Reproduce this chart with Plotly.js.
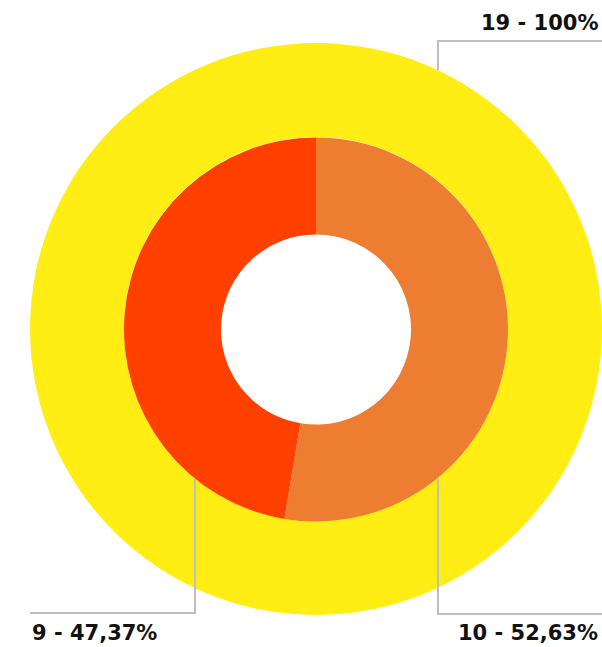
<!DOCTYPE html>
<html>
<head>
<meta charset="utf-8">
<script src="https://cdn.plot.ly/plotly-3.0.1.min.js"></script>
<style>
  html, body { margin: 0; padding: 0; background: #ffffff; overflow: hidden; }
  #chart { width: 602px; height: 647px; }
</style>
</head>
<body>
<div id="chart"></div>
<script>
// ---- data ----
const outerLabels = ["Total"];
const outerValues = [19];
const outerText = ["19 - 100%"];

const innerLabels = ["Grupo A", "Grupo B"];
const innerValues = [10, 9];
const innerText = ["10 - 52,63%", "9 - 47,37%"];

const outerColors = ["#FFED14"];
const innerColors = ["#ED7D31", "#FF4000"];

// ---- layout helpers (pixel -> paper) ----
const W = 602, H = 647;
const px = x => x / W;
const py = y => 1 - y / H;

const traces = [
  {
    type: "pie",
    labels: outerLabels,
    values: outerValues,
    hole: 0.671,
    sort: false,
    direction: "clockwise",
    textinfo: "none",
    hoverinfo: "none",
    marker: { colors: outerColors, line: { width: 0 } },
    domain: { x: [px(30), 1], y: [py(615), py(43)] },
    showlegend: false
  },
  {
    type: "pie",
    labels: innerLabels,
    values: innerValues,
    hole: 0.495,
    sort: false,
    direction: "clockwise",
    rotation: 0,
    textinfo: "none",
    hoverinfo: "none",
    marker: { colors: innerColors, line: { width: 0 } },
    domain: { x: [px(124), px(508)], y: [py(521.5), py(137.5)] },
    showlegend: false
  }
];

const lineStyle = { color: "#BFBFBF", width: 2 };
function path(points) {
  return "M " + points.map(p => px(p[0]) + "," + py(p[1])).join(" L ");
}

const shapes = [
  { type: "path", xref: "paper", yref: "paper", path: path([[438, 70], [438, 41], [604, 41]]), line: lineStyle },
  { type: "path", xref: "paper", yref: "paper", path: path([[195, 479], [195, 613], [30, 613]]), line: lineStyle },
  { type: "path", xref: "paper", yref: "paper", path: path([[438, 478], [438, 614], [604, 614]]), line: lineStyle }
];

const labelFont = { family: "'DejaVu Sans', sans-serif", size: 21, color: "#111111", weight: "bold" };
const annotations = [
  { text: outerText[0], x: px(600), y: py(23), xanchor: "right", yanchor: "middle" },
  { text: innerText[1], x: px(30), y: py(633), xanchor: "left", yanchor: "middle" },
  { text: innerText[0], x: px(600), y: py(633), xanchor: "right", yanchor: "middle" }
].map(a => Object.assign({ xref: "paper", yref: "paper", showarrow: false, font: labelFont }, a));

const layout = {
  width: W,
  height: H,
  margin: { l: 0, r: 0, t: 0, b: 0 },
  paper_bgcolor: "#ffffff",
  plot_bgcolor: "#ffffff",
  showlegend: false,
  shapes: shapes,
  annotations: annotations
};

Plotly.newPlot("chart", traces, layout, { displayModeBar: false, staticPlot: true });
</script>
</body>
</html>
